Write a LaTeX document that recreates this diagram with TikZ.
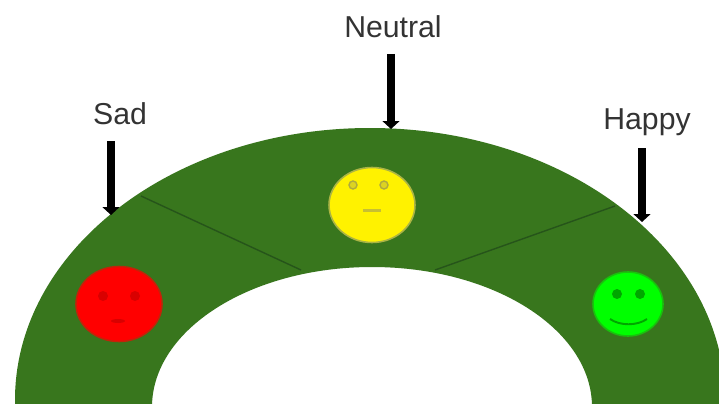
\documentclass[tikz,border=0pt]{standalone}
\usepackage{fontspec}
\setmainfont{Liberation Sans}
\usetikzlibrary{arrows.meta,shapes.geometric}
\definecolor{ringgreen}{HTML}{38761D}
\definecolor{linegreen}{HTML}{26541A}
\definecolor{labelgray}{HTML}{333333}
\tikzset{
  moodlabel/.style={text=labelgray,font=\fontsize{17.2}{20}\selectfont,inner sep=0pt},
  pointer/.style={line width=4.4pt,-{Triangle[length=4.5pt,width=9.5pt]},black},
  face/.style={shape=ellipse,inner sep=0pt,line width=0.9pt},
}
\begin{document}
\begin{tikzpicture}[x=0.02cm,y=0.02cm]
  \clip (0,0) rectangle (719,403);
  \fill[white] (0,0) rectangle (719,403);
  % ring
  \fill[ringgreen,even odd rule] (370,3) ellipse [x radius=355,y radius=272]
    (372,-4) ellipse [x radius=220,y radius=140];
  % borders between the moods
  \coordinate (leftouter) at (141,207);
  \coordinate (leftinner) at (301,133);
  \coordinate (rightinner) at (435,133);
  \coordinate (rightouter) at (615,197);
  \draw[linegreen,thick] (leftouter) -- (leftinner);
  \draw[linegreen,thick] (rightinner) -- (rightouter);
  % labels and arrows
  \node[moodlabel] (sad) at (120,289) {Sad};
  \node[moodlabel] (neutral) at (393,376) {Neutral};
  \node[moodlabel] (happy) at (647,281) {Happy};
  \coordinate (sadstart) at (111,262);
  \coordinate (sadtip) at (111,188);
  \coordinate (neutralstart) at (391,349);
  \coordinate (neutraltip) at (391,274);
  \coordinate (happystart) at (642,255);
  \coordinate (happytip) at (642,181);
  \draw[pointer] (sadstart) -- (sadtip);
  \draw[pointer] (neutralstart) -- (neutraltip);
  \draw[pointer] (happystart) -- (happytip);
  % sad face
  \node[face,fill=red,draw=red!70!ringgreen,minimum width=1.72cm,minimum height=1.5cm] (sadface) at (119,99) {};
  \fill[red!85!black] (103,107) circle (5);
  \fill[red!85!black] (135,107) circle (5);
  \fill[red!85!black] (118,82) ellipse [x radius=7,y radius=2];
  % neutral face
  \node[face,fill=yellow,draw=yellow!50!ringgreen,minimum width=1.72cm,minimum height=1.5cm] (neutralface) at (372,198) {};
  \draw[yellow!65!black,thick,fill=yellow!85!black] (353,218) circle (4);
  \draw[yellow!65!black,thick,fill=yellow!85!black] (384,218) circle (4);
  \fill[yellow!75!black] (363,191) rectangle (381,194.5);
  % happy face
  \node[face,fill=green,draw=green!55!ringgreen,minimum width=1.4cm,minimum height=1.28cm] (happyface) at (628,99) {};
  \fill[green!65!black] (617,109) circle (5);
  \fill[green!65!black] (640,109) circle (5);
  \draw[green!65!black,line width=1.1pt] (610,84) .. controls (620,77) and (637,77) .. (647,84);
\end{tikzpicture}
\end{document}
